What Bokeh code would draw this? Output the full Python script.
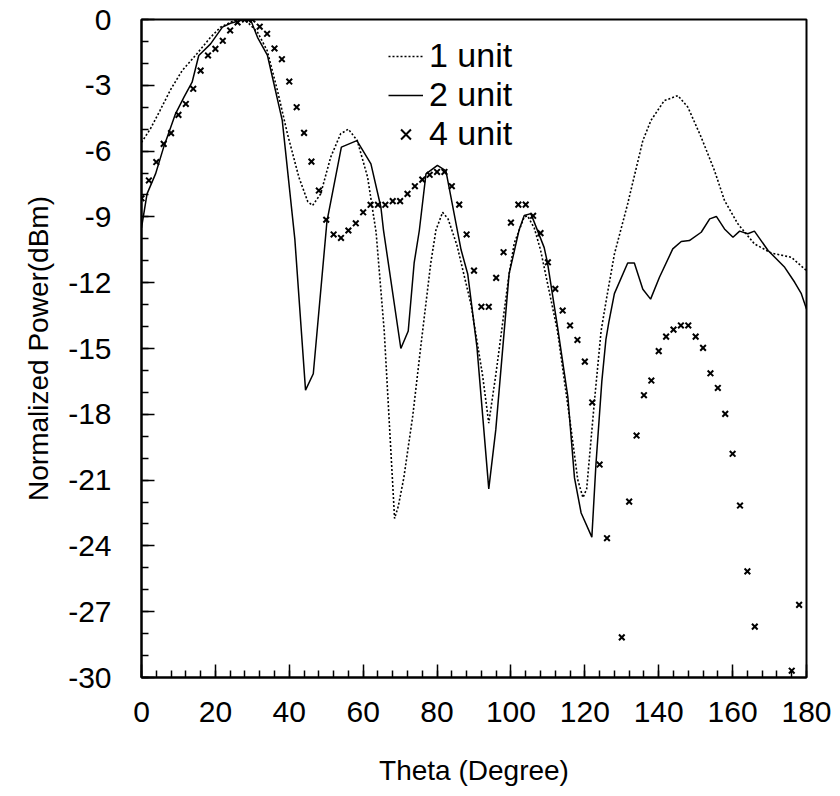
from bokeh.plotting import figure
from bokeh.models import Range1d, SingleIntervalTicker, Legend, LegendItem, PrintfTickFormatter
from bokeh.embed import file_html
from bokeh.resources import INLINE

# ---- data ----
x_1unit = [0, 2.4, 5, 8, 11, 15, 18.7, 21.4, 25, 28, 31.4, 34, 36.8, 39.5, 42.6, 45, 46.3,
           48.5, 51.2, 53.9, 56, 58.4, 61.2, 63.5, 65.7, 67.9, 68.5, 69.5, 71, 73.4, 75.6,
           78.3, 79.7, 81.5, 83, 85.4, 89.2, 92.3, 94, 95.9, 99.5, 100.9, 103.6, 104.5,
           106.3, 108, 112.6, 116.3, 118.1, 119.5, 120.5, 122.6, 124.4, 126, 128, 131.6,
           135.7, 137.9, 141.5, 145.2, 147.9, 151.5, 155.1, 157.8, 161.4, 165.9, 170.5,
           175.9, 180]
y_1unit = [-5.6, -4.99, -4.15, -3.16, -2.33, -1.56, -0.81, -0.35, -0.05, 0, -0.58, -1.41,
           -3.24, -5.21, -7.19, -8.3, -8.48, -7.95, -6.28, -5.21, -5.0, -5.52, -7.19, -9.7,
           -14.2, -20.9, -22.75, -22.2, -20.9, -18.1, -14.9, -11.1, -9.6, -8.79, -9.1,
           -10.3, -13.0, -16.2, -18.4, -16.2, -11.6, -10.2, -9.0, -8.95, -9.5, -10.5,
           -14.2, -18.7, -21.0, -21.8, -21.4, -17.4, -14.2, -12.6, -10.7, -8.4, -5.52,
           -4.6, -3.7, -3.47, -4.0, -5.37, -6.89, -8.25, -9.31, -10.23, -10.65, -10.84,
           -11.45]

x_2unit = [0, 1.5, 3.8, 6, 9.2, 11.5, 13.7, 15.5, 16.4, 18.7, 21.9, 24.1, 27.7, 29.5, 31.4,
           34.1, 38.1, 41.5, 44.4, 46.5, 50.2, 54.1, 58.3, 62.1, 64.8, 65.5, 70.2, 72.2,
           73.8, 75.2, 77, 80.1, 82.4, 86.5, 88.3, 90.8, 94.0, 95.9, 99.5, 102.2, 103.6,
           105.4, 109, 109.9, 112.6, 115.4, 117.2, 119, 121.9, 123, 124.6, 125.7, 126.5,
           128, 131.6, 133.4, 135.7, 137.8, 140.2, 143.8, 146.1, 148.3, 151.5, 153.8,
           155.6, 157.8, 160.1, 161.9, 164.1, 165.9, 169.6, 174.1, 176.8, 178.6, 180]
y_2unit = [-9.5, -7.95, -7.04, -5.82, -4.3, -3.54, -2.86, -1.64, -1.49, -1.11, -0.35, -0.17,
           0, 0, -0.81, -1.64, -4.6, -10.0, -16.9, -16.15, -9.2, -5.82, -5.52, -6.58, -8.56,
           -9.6, -15.0, -14.2, -11.1, -9.62, -7.04, -6.65, -6.9, -10.5, -11.6, -14.94,
           -21.4, -18.7, -11.6, -9.6, -8.94, -8.85, -10.4, -11.1, -14.0, -17.2, -20.9,
           -22.5, -23.6, -20.3, -16.5, -14.6, -13.8, -12.5, -11.1, -11.1, -12.3, -12.75,
           -11.75, -10.46, -10.12, -10.08, -9.7, -9.09, -8.98, -9.55, -9.93, -9.65, -9.77,
           -9.65, -10.53, -11.3, -11.98, -12.5, -13.2]

x_4unit = [0, 2, 4, 6, 8, 10, 12, 14, 16, 18, 20, 22, 24, 26, 28, 29, 30, 32, 34, 36, 38,
           40, 42, 44, 46, 48, 50, 52, 54, 56, 58, 60, 62, 64, 66, 68, 70, 72, 74, 76, 78,
           80, 82, 84, 86, 88, 90, 92, 94, 96, 98, 100, 102, 104, 106, 108, 110, 112, 114,
           116, 118, 120, 122, 124, 126, 130, 132, 134, 136, 138, 140, 142, 144, 146, 148,
           150, 152, 154, 156, 158, 160, 162, 164, 166, 176, 178]
y_4unit = [-8.15, -7.34, -6.5, -5.67, -5.18, -4.35, -3.85, -3.16, -2.33, -1.64, -1.34, -0.97,
           -0.5, -0.13, 0, 0, 0, -0.33, -0.65, -1.32, -1.81, -2.83, -4.0, -5.17, -6.48,
           -7.8, -9.13, -9.8, -9.96, -9.62, -9.29, -8.79, -8.45, -8.45, -8.45, -8.28,
           -8.28, -7.95, -7.6, -7.3, -7.08, -6.95, -6.95, -7.6, -8.44, -9.8, -11.45, -13.1,
           -13.1, -11.78, -10.61, -9.26, -8.44, -8.44, -8.95, -9.74, -11.07, -12.28, -13.27,
           -13.95, -14.61, -15.6, -17.46, -20.29, -23.65, -28.17, -21.98, -18.97, -17.13,
           -16.46, -15.12, -14.46, -14.14, -13.95, -13.95, -14.46, -14.97, -16.13, -16.8,
           -17.98, -19.8, -22.16, -25.16, -27.68, -29.69, -26.69]

series_labels = ["1 unit", "2 unit", "4 unit"]
x_label = "Theta (Degree)"
y_label = "Normalized Power(dBm)"

FONT = "Liberation Sans"

p = figure(width=832, height=788, output_backend="svg", toolbar_location=None,
           x_range=Range1d(0, 180), y_range=Range1d(-30, 0),
           min_border_left=141, min_border_top=19, min_border_right=26,
           min_border_bottom=111, frame_width=665, frame_height=658)

p.grid.visible = False
p.outline_line_color = "black"
p.outline_line_width = 2
p.background_fill_color = "white"
p.border_fill_color = "white"

r1 = p.line(x_1unit, y_1unit, line_color="black", line_width=1.6, line_dash="2 2")
r2 = p.line(x_2unit, y_2unit, line_color="black", line_width=1.5)
r4 = p.scatter(x_4unit, y_4unit, marker="x", size=8, line_color="black", line_width=2)

p.xaxis.ticker = SingleIntervalTicker(interval=20, num_minor_ticks=5)
p.yaxis.ticker = SingleIntervalTicker(interval=3, num_minor_ticks=3)
p.xaxis.formatter = PrintfTickFormatter(format="%d")
p.yaxis.formatter = PrintfTickFormatter(format="%d")

for ax in (p.xaxis[0], p.yaxis[0]):
    ax.axis_line_width = 2
    ax.axis_line_color = "black"
    ax.major_tick_in = 13
    ax.major_tick_out = 0
    ax.minor_tick_in = 7
    ax.minor_tick_out = 0
    ax.major_tick_line_width = 1.5
    ax.minor_tick_line_width = 1.5
    ax.major_label_text_font = FONT
    ax.major_label_text_font_size = "30px"
    ax.major_label_text_color = "black"
    ax.axis_label_text_font = FONT
    ax.axis_label_text_font_size = "28px"
    ax.axis_label_text_font_style = "normal"
    ax.axis_label_text_color = "black"

p.xaxis.axis_label = x_label
p.yaxis.axis_label = y_label
p.xaxis.major_label_standoff = 24
p.yaxis.major_label_standoff = 30
p.xaxis.axis_label_standoff = 30
p.yaxis.axis_label_standoff = 11

legend = Legend(items=[LegendItem(label=series_labels[0], renderers=[r1]),
                       LegendItem(label=series_labels[1], renderers=[r2]),
                       LegendItem(label=series_labels[2], renderers=[r4])],
                location=(247, 524))
legend.label_text_font = FONT
legend.label_text_font_size = "34px"
legend.label_text_color = "black"
legend.label_height = 38
legend.glyph_height = 38
legend.glyph_width = 35
legend.label_standoff = 6
legend.spacing = 0
legend.padding = 0
legend.margin = 0
legend.border_line_alpha = 0
legend.background_fill_alpha = 0
p.add_layout(legend)

open("out.html", "w").write(file_html(p, INLINE))
